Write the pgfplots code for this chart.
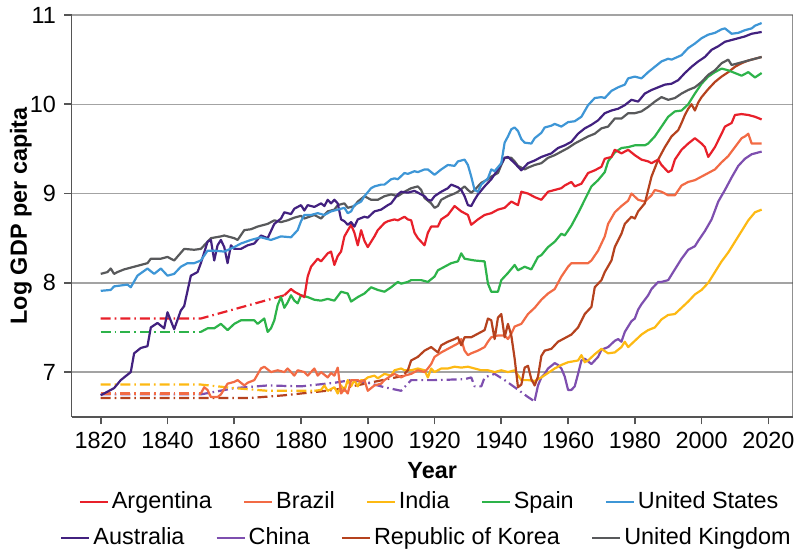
\documentclass[border=0pt]{standalone}
\usepackage{pgfplots}
\pgfplotsset{compat=1.18}
\usepackage{fontspec}
\setmainfont{Liberation Sans}
\definecolor{cArg}{HTML}{E8202A}
\definecolor{cBra}{HTML}{F26B45}
\definecolor{cInd}{HTML}{FDB913}
\definecolor{cSpa}{HTML}{2DB34A}
\definecolor{cUSA}{HTML}{3E96D6}
\definecolor{cAus}{HTML}{42217F}
\definecolor{cChi}{HTML}{7E4FAF}
\definecolor{cKor}{HTML}{B5421E}
\definecolor{cUK}{HTML}{58595B}
\definecolor{spine}{HTML}{555555}
\definecolor{gridc}{HTML}{A3A3A3}
\begin{document}
\fontsize{11.7bp}{14bp}\selectfont
\begin{tikzpicture}[font=\fontsize{11.7bp}{14bp}\selectfont]
\pgfplotsset{
  ser/.style={line width=1.1bp, line join=round},
  dd/.style={dash pattern=on 5bp off 2bp on 0.8bp off 2bp},
  legend image code/.code={\draw[#1] (0bp,0bp) -- (14bp,0bp);},
  every axis legend/.append style={draw=none, fill=none, inner sep=0pt,
    /tikz/every even column/.append style={column sep=14bp},
    nodes={inner sep=1.5bp}},
}
\begin{axis}[
  scale only axis, width=360.5bp, height=200.85bp,
  xmin=1811.3, xmax=2027.3, ymin=6.5, ymax=11,
  axis x line*=bottom, axis y line*=left,
  axis line style={-, draw=spine, line width=0.8bp},
  xtick={1820,1840,...,2020}, ytick={7,8,9,10,11},
  x tick label style={/pgf/number format/1000 sep={}},
  /pgf/number format/assume math mode=true,
  tick align=outside, major tick length=3.8bp,
  tick style={draw=spine, line width=0.8bp},
  ymajorgrids, grid style={draw=gridc, line width=0.75bp},
  xlabel={\bfseries Year}, ylabel={\bfseries Log GDP per capita},
  xlabel style={at={(axis description cs:0.5,-0.1538)}, anchor=base},
  ylabel style={at={(axis description cs:-0.062,0.5)}, anchor=base},
  legend columns=5, legend cell align=left,
  legend style={at={(axis description cs:0.497,-0.2125)}, anchor=center},
]
\addlegendimage{cArg, ser}\addlegendentry{Argentina}
\addlegendimage{cBra, ser}\addlegendentry{Brazil}
\addlegendimage{cInd, ser}\addlegendentry{India}
\addlegendimage{cSpa, ser}\addlegendentry{Spain}
\addlegendimage{cUSA, ser}\addlegendentry{United States}
% ---- dashed (interpolated) parts
\addplot[cKor, ser, dd, forget plot] coordinates {(1820,6.71) (1865,6.71) (1875,6.74) (1890,6.80) (1911,6.96)};
\addplot[cChi, ser, dd, forget plot] coordinates {(1820,6.75) (1850,6.75) (1860,6.82) (1870,6.85) (1880,6.84) (1890,6.88) (1895,6.91) (1900,6.88) (1905,6.83) (1910,6.79) (1913,6.91) (1920,6.91) (1929,6.92) (1931,6.94) (1932,6.84) (1934,6.84) (1935,6.94) (1938,6.98) (1941,6.91) (1944,6.83) (1948,6.72) (1950,6.67)};
\addplot[cInd, ser, dd, forget plot] coordinates {(1820,6.86) (1850,6.86) (1860,6.82) (1870,6.79) (1884,6.79)};
\addplot[cBra, ser, dd, forget plot] coordinates {(1820,6.76) (1850,6.76)};
\addplot[cSpa, ser, dd, forget plot] coordinates {(1820,7.45) (1850,7.45)};
\addplot[cArg, ser, dd, forget plot] coordinates {(1820,7.60) (1850,7.60) (1875,7.86)};
% ---- China
\addplot[cChi, ser, forget plot] coordinates {(1950,6.68) (1951,6.85) (1952,6.94) (1953,6.98) (1954,7.04) (1955,7.07) (1956,7.10) (1957,7.08) (1958,7.04) (1959,6.95) (1960,6.80) (1961,6.80) (1962,6.84) (1963,6.98) (1964,7.13) (1965,7.15) (1966,7.12) (1967,7.09) (1969,7.17) (1970,7.25) (1972,7.28) (1974,7.35) (1975,7.37) (1976,7.34) (1977,7.45) (1979,7.57) (1980,7.60) (1981,7.70) (1982,7.76) (1984,7.86) (1985,7.93) (1987,8.01) (1988,8.01) (1990,8.03) (1992,8.15) (1994,8.27) (1996,8.37) (1998,8.41) (1999,8.47) (2001,8.58) (2003,8.71) (2005,8.91) (2007,9.04) (2009,9.18) (2011,9.31) (2013,9.39) (2015,9.44) (2018,9.47)};
% ---- India
\addplot[cInd, ser, forget plot] coordinates {(1884,6.79) (1886,6.80) (1887,6.85) (1888,6.79) (1890,6.83) (1891,6.76) (1892,6.85) (1893,6.79) (1894,6.91) (1895,6.84) (1896,6.91) (1897,6.84) (1898,6.91) (1899,6.91) (1900,6.94) (1902,6.96) (1903,6.93) (1905,6.98) (1907,6.96) (1908,7.02) (1910,7.04) (1911,7.02) (1913,7.02) (1915,7.04) (1917,7.02) (1918,6.94) (1919,7.04) (1920,7.00) (1922,7.04) (1924,7.04) (1926,7.06) (1928,7.05) (1930,7.06) (1932,7.04) (1934,7.02) (1936,7.02) (1938,7.00) (1940,7.02) (1942,7.00) (1944,7.02) (1946,6.91) (1948,6.91) (1950,6.90) (1952,6.94) (1954,6.99) (1956,7.04) (1958,7.08) (1960,7.11) (1963,7.13) (1964,7.19) (1965,7.11) (1966,7.13) (1968,7.20) (1970,7.26) (1972,7.21) (1974,7.22) (1976,7.28) (1977,7.34) (1978,7.28) (1980,7.35) (1982,7.42) (1984,7.47) (1986,7.50) (1988,7.59) (1990,7.64) (1992,7.65) (1994,7.72) (1996,7.79) (1998,7.87) (2000,7.92) (2002,8.00) (2004,8.12) (2006,8.24) (2008,8.34) (2010,8.46) (2012,8.58) (2014,8.70) (2016,8.79) (2018,8.82)};
% ---- Brazil
\addplot[cBra, ser, forget plot] coordinates {(1850,6.76) (1851,6.83) (1852,6.80) (1853,6.72) (1855,6.72) (1856,6.75) (1858,6.87) (1860,6.89) (1861,6.91) (1863,6.85) (1864,6.88) (1866,6.91) (1868,7.04) (1869,7.06) (1871,7.00) (1873,7.02) (1875,7.00) (1876,7.04) (1878,6.96) (1879,7.02) (1881,7.00) (1882,6.96) (1884,7.04) (1885,6.96) (1886,7.00) (1888,6.94) (1889,6.99) (1890,6.96) (1891,7.05) (1892,6.76) (1893,6.81) (1894,6.76) (1895,6.91) (1897,6.91) (1898,6.89) (1899,6.91) (1900,6.79) (1902,6.85) (1904,6.87) (1905,6.91) (1907,6.96) (1908,6.98) (1910,6.94) (1911,6.96) (1913,6.98) (1915,7.02) (1917,7.00) (1918,7.04) (1919,7.09) (1920,7.17) (1922,7.22) (1924,7.26) (1925,7.28) (1927,7.32) (1928,7.37) (1929,7.24) (1930,7.19) (1931,7.21) (1933,7.24) (1935,7.28) (1936,7.34) (1937,7.39) (1939,7.41) (1941,7.41) (1942,7.37) (1943,7.43) (1944,7.51) (1946,7.54) (1948,7.65) (1950,7.72) (1952,7.81) (1954,7.88) (1956,7.93) (1958,8.07) (1960,8.18) (1961,8.22) (1963,8.22) (1966,8.22) (1967,8.25) (1969,8.36) (1971,8.52) (1972,8.66) (1974,8.79) (1976,8.86) (1978,8.92) (1979,9.00) (1981,8.93) (1983,8.91) (1985,8.98) (1986,9.04) (1988,9.02) (1990,8.98) (1992,8.98) (1994,9.09) (1996,9.13) (1998,9.15) (2000,9.19) (2002,9.23) (2004,9.27) (2006,9.35) (2008,9.42) (2010,9.52) (2012,9.62) (2013,9.64) (2014,9.67) (2015,9.56) (2018,9.56)};
% ---- Korea
\addplot[cKor, ser, forget plot] coordinates {(1911,6.98) (1912,7.02) (1913,7.13) (1915,7.17) (1917,7.24) (1919,7.28) (1921,7.22) (1922,7.30) (1924,7.34) (1926,7.37) (1927,7.39) (1928,7.30) (1929,7.39) (1931,7.39) (1933,7.43) (1935,7.47) (1936,7.60) (1937,7.58) (1938,7.37) (1939,7.61) (1940,7.65) (1941,7.39) (1942,7.54) (1943,7.41) (1944,7.15) (1945,6.83) (1946,6.86) (1947,7.05) (1948,7.07) (1949,6.92) (1950,6.85) (1951,6.95) (1952,7.18) (1953,7.24) (1955,7.26) (1957,7.34) (1959,7.38) (1961,7.42) (1963,7.50) (1965,7.65) (1967,7.73) (1968,7.95) (1970,8.03) (1971,8.12) (1973,8.25) (1974,8.40) (1976,8.55) (1977,8.66) (1979,8.74) (1980,8.72) (1981,8.80) (1983,8.89) (1984,9.04) (1985,9.19) (1987,9.38) (1989,9.52) (1991,9.64) (1993,9.71) (1994,9.79) (1995,9.88) (1996,9.95) (1997,10.00) (1998,9.93) (1999,10.02) (2000,10.08) (2002,10.17) (2004,10.25) (2006,10.31) (2008,10.36) (2010,10.42) (2012,10.46) (2014,10.49) (2016,10.51) (2018,10.53)};
% ---- Spain
\addplot[cSpa, ser, forget plot] coordinates {(1850,7.45) (1852,7.49) (1854,7.49) (1856,7.54) (1858,7.47) (1860,7.54) (1862,7.58) (1864,7.58) (1866,7.58) (1867,7.54) (1869,7.60) (1870,7.45) (1871,7.49) (1872,7.58) (1873,7.75) (1874,7.84) (1875,7.72) (1876,7.78) (1877,7.86) (1878,7.80) (1879,7.77) (1880,7.86) (1882,7.84) (1884,7.81) (1886,7.80) (1888,7.82) (1890,7.80) (1892,7.90) (1894,7.88) (1895,7.79) (1897,7.84) (1899,7.88) (1901,7.95) (1903,7.92) (1905,7.90) (1907,7.95) (1909,8.01) (1910,7.99) (1912,8.01) (1913,8.03) (1916,8.03) (1918,8.01) (1920,8.07) (1921,8.14) (1923,8.18) (1925,8.22) (1927,8.24) (1928,8.33) (1929,8.27) (1932,8.25) (1935,8.24) (1936,7.99) (1937,7.90) (1939,7.90) (1940,8.03) (1942,8.11) (1944,8.20) (1945,8.14) (1947,8.18) (1949,8.15) (1950,8.22) (1951,8.29) (1952,8.31) (1954,8.40) (1956,8.46) (1958,8.55) (1959,8.53) (1961,8.64) (1963,8.78) (1965,8.93) (1967,9.08) (1969,9.15) (1971,9.24) (1972,9.36) (1974,9.46) (1976,9.51) (1978,9.52) (1980,9.54) (1983,9.54) (1984,9.56) (1986,9.64) (1988,9.75) (1990,9.86) (1992,9.92) (1994,9.93) (1996,10.00) (1998,10.12) (2000,10.23) (2002,10.31) (2004,10.36) (2006,10.40) (2008,10.38) (2010,10.35) (2012,10.32) (2014,10.36) (2016,10.30) (2018,10.35)};
% ---- Argentina
\addplot[cArg, ser, forget plot] coordinates {(1875,7.86) (1877,7.93) (1878,7.90) (1879,7.88) (1880,7.86) (1881,7.84) (1882,8.07) (1883,8.18) (1885,8.27) (1886,8.24) (1888,8.33) (1889,8.35) (1890,8.20) (1891,8.30) (1892,8.35) (1893,8.52) (1895,8.65) (1896,8.56) (1897,8.42) (1898,8.59) (1899,8.47) (1900,8.40) (1902,8.52) (1903,8.59) (1905,8.67) (1906,8.69) (1908,8.71) (1909,8.70) (1911,8.74) (1912,8.71) (1913,8.70) (1914,8.56) (1915,8.50) (1917,8.42) (1918,8.56) (1919,8.63) (1921,8.63) (1922,8.71) (1924,8.76) (1926,8.86) (1928,8.80) (1929,8.78) (1930,8.76) (1931,8.65) (1933,8.71) (1935,8.76) (1937,8.78) (1939,8.82) (1941,8.84) (1943,8.91) (1945,8.87) (1946,9.02) (1948,9.00) (1950,8.96) (1952,8.93) (1954,9.02) (1956,9.04) (1958,9.06) (1959,9.09) (1961,9.13) (1962,9.08) (1964,9.11) (1966,9.23) (1968,9.26) (1970,9.30) (1971,9.39) (1973,9.41) (1974,9.49) (1976,9.45) (1978,9.49) (1980,9.43) (1982,9.38) (1984,9.36) (1985,9.34) (1987,9.38) (1988,9.32) (1990,9.24) (1991,9.26) (1992,9.38) (1994,9.49) (1996,9.56) (1998,9.62) (2000,9.56) (2001,9.52) (2002,9.41) (2004,9.52) (2006,9.67) (2007,9.75) (2009,9.79) (2010,9.88) (2012,9.89) (2014,9.88) (2016,9.86) (2018,9.83)};
% ---- United Kingdom
\addplot[cUK, ser, forget plot] coordinates {(1820,8.10) (1822,8.12) (1823,8.16) (1824,8.10) (1825,8.12) (1827,8.15) (1829,8.17) (1832,8.20) (1834,8.22) (1835,8.27) (1838,8.27) (1840,8.29) (1842,8.25) (1845,8.38) (1848,8.37) (1850,8.38) (1853,8.50) (1856,8.52) (1857,8.53) (1860,8.50) (1861,8.48) (1863,8.59) (1865,8.60) (1867,8.63) (1870,8.66) (1872,8.70) (1874,8.68) (1876,8.70) (1878,8.73) (1880,8.75) (1881,8.72) (1884,8.76) (1886,8.72) (1888,8.80) (1890,8.82) (1891,8.87) (1893,8.89) (1894,8.84) (1896,8.86) (1897,8.91) (1899,8.97) (1901,8.93) (1903,8.93) (1905,8.97) (1907,8.99) (1909,8.97) (1911,9.02) (1913,9.06) (1915,9.08) (1916,9.04) (1917,8.95) (1919,8.89) (1920,8.84) (1921,8.86) (1922,8.93) (1924,8.97) (1926,9.00) (1927,9.02) (1929,9.08) (1930,9.04) (1931,9.01) (1932,9.04) (1934,9.12) (1936,9.16) (1937,9.19) (1939,9.23) (1940,9.32) (1941,9.40) (1943,9.40) (1944,9.36) (1945,9.31) (1947,9.27) (1948,9.29) (1950,9.32) (1952,9.34) (1954,9.40) (1956,9.43) (1958,9.47) (1960,9.51) (1962,9.56) (1964,9.60) (1966,9.64) (1968,9.67) (1970,9.73) (1972,9.75) (1974,9.84) (1976,9.84) (1978,9.90) (1980,9.90) (1982,9.92) (1984,9.97) (1986,10.03) (1988,10.08) (1990,10.05) (1992,10.07) (1994,10.12) (1996,10.16) (1998,10.19) (2000,10.25) (2002,10.33) (2004,10.38) (2006,10.46) (2008,10.50) (2009,10.44) (2011,10.46) (2013,10.48) (2015,10.50) (2018,10.53)};
% ---- Australia
\addplot[cAus, ser, forget plot] coordinates {(1820,6.74) (1822,6.78) (1824,6.82) (1826,6.91) (1829,7.00) (1830,7.21) (1832,7.27) (1834,7.29) (1835,7.50) (1837,7.55) (1839,7.49) (1840,7.67) (1842,7.48) (1844,7.69) (1845,7.74) (1847,8.08) (1849,8.12) (1850,8.22) (1852,8.46) (1853,8.48) (1854,8.25) (1855,8.42) (1856,8.48) (1857,8.40) (1858,8.22) (1859,8.42) (1860,8.38) (1862,8.38) (1864,8.42) (1866,8.44) (1868,8.53) (1870,8.50) (1872,8.66) (1874,8.72) (1875,8.79) (1877,8.77) (1878,8.83) (1880,8.87) (1881,8.81) (1882,8.87) (1884,8.85) (1886,8.89) (1887,8.86) (1888,8.93) (1889,8.89) (1890,8.93) (1891,8.89) (1892,8.71) (1893,8.69) (1894,8.65) (1895,8.68) (1896,8.63) (1897,8.71) (1899,8.74) (1900,8.73) (1902,8.80) (1904,8.82) (1906,8.87) (1907,8.89) (1909,8.99) (1910,9.02) (1912,9.01) (1914,9.03) (1915,9.01) (1917,8.97) (1918,8.93) (1919,8.92) (1920,8.97) (1922,9.02) (1924,9.06) (1925,9.10) (1927,9.07) (1928,9.04) (1929,8.97) (1930,8.87) (1931,8.86) (1932,8.93) (1933,8.99) (1935,9.08) (1937,9.16) (1939,9.27) (1941,9.40) (1942,9.41) (1944,9.34) (1945,9.30) (1946,9.26) (1948,9.34) (1950,9.37) (1952,9.41) (1955,9.45) (1957,9.51) (1959,9.54) (1961,9.58) (1963,9.67) (1965,9.73) (1967,9.77) (1969,9.82) (1971,9.90) (1973,9.93) (1975,9.95) (1977,9.99) (1979,10.05) (1981,10.03) (1983,10.12) (1985,10.16) (1987,10.19) (1989,10.22) (1991,10.23) (1993,10.27) (1995,10.35) (1997,10.42) (1999,10.48) (2001,10.53) (2003,10.61) (2005,10.65) (2007,10.70) (2009,10.72) (2011,10.74) (2013,10.76) (2015,10.79) (2018,10.81)};
% ---- United States
\addplot[cUSA, ser, forget plot] coordinates {(1820,7.91) (1823,7.92) (1824,7.96) (1828,7.98) (1829,7.95) (1831,8.08) (1834,8.16) (1836,8.10) (1838,8.16) (1840,8.08) (1842,8.10) (1844,8.18) (1846,8.22) (1848,8.22) (1850,8.25) (1852,8.36) (1854,8.36) (1857,8.35) (1860,8.40) (1862,8.44) (1865,8.48) (1868,8.51) (1871,8.48) (1874,8.52) (1877,8.51) (1879,8.59) (1880,8.69) (1881,8.76) (1883,8.76) (1885,8.78) (1887,8.76) (1889,8.80) (1891,8.82) (1893,8.84) (1894,8.78) (1895,8.80) (1896,8.87) (1898,8.91) (1899,8.97) (1901,9.06) (1902,9.08) (1904,9.10) (1905,9.10) (1907,9.16) (1908,9.17) (1909,9.16) (1911,9.23) (1912,9.22) (1914,9.25) (1915,9.24) (1917,9.27) (1918,9.27) (1920,9.21) (1922,9.27) (1924,9.32) (1926,9.31) (1927,9.36) (1929,9.38) (1930,9.32) (1931,9.19) (1932,9.04) (1933,9.02) (1934,9.10) (1936,9.17) (1937,9.27) (1938,9.25) (1940,9.34) (1941,9.57) (1942,9.64) (1943,9.72) (1944,9.74) (1945,9.70) (1946,9.61) (1947,9.57) (1949,9.56) (1950,9.62) (1952,9.68) (1953,9.74) (1955,9.76) (1956,9.78) (1958,9.75) (1960,9.80) (1962,9.81) (1964,9.86) (1966,9.99) (1968,10.07) (1970,10.08) (1971,10.07) (1973,10.15) (1975,10.19) (1977,10.22) (1978,10.29) (1980,10.31) (1982,10.29) (1984,10.36) (1986,10.42) (1988,10.48) (1990,10.51) (1991,10.50) (1994,10.55) (1996,10.63) (1998,10.68) (2000,10.74) (2002,10.78) (2004,10.80) (2006,10.84) (2007,10.85) (2009,10.79) (2011,10.80) (2013,10.83) (2015,10.85) (2016,10.88) (2018,10.91)};
\draw[draw=spine, line width=0.8bp] (rel axis cs:1,0) -- (rel axis cs:1,1);
\coordinate (BL) at (rel axis cs:0,0);
\coordinate (TR) at (rel axis cs:1,1);
\end{axis}
\begin{axis}[
  scale only axis, width=360.5bp, height=200.85bp,
  hide axis, xmin=0, xmax=1, ymin=0, ymax=1,
  legend columns=4, legend cell align=left,
  legend style={at={(axis description cs:0.4928,-0.3010)}, anchor=center},
]
\addlegendimage{cAus, ser}\addlegendentry{Australia}
\addlegendimage{cChi, ser}\addlegendentry{China}
\addlegendimage{cKor, ser}\addlegendentry{Republic of Korea}
\addlegendimage{cUK, ser}\addlegendentry{United Kingdom}
\end{axis}
\pgfresetboundingbox
\path[use as bounding box] ([shift={(-35.85bp,-67.15bp)}]BL) rectangle ([shift={(3.65bp,7.5bp)}]TR);
\end{tikzpicture}
\end{document}
